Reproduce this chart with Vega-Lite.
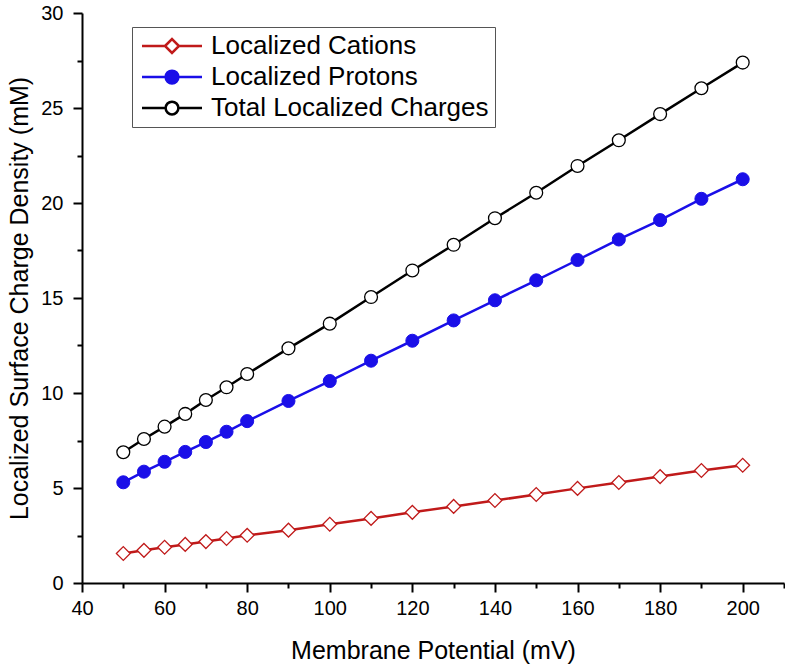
{
  "$schema": "https://vega.github.io/schema/vega-lite/v6.json",
  "width": 702,
  "height": 570,
  "autosize": "none",
  "padding": {"left": 82, "top": 13, "right": 1, "bottom": 87},
  "background": "white",
  "config": {
    "view": {"stroke": null},
    "font": "Liberation Sans",
    "axis": {"grid": false, "domainColor": "black", "domainWidth": 2, "tickColor": "black", "tickWidth": 2, "labelColor": "black", "labelFont": "Liberation Sans", "labelFontSize": 20, "titleFont": "Liberation Sans", "titleFontSize": 25, "titleFontWeight": "normal", "titleColor": "black"}
  },
  "data": {"values": [
    {"series": "Localized Cations", "x": 50, "y": 1.55},
    {"series": "Localized Cations", "x": 55, "y": 1.72},
    {"series": "Localized Cations", "x": 60, "y": 1.88},
    {"series": "Localized Cations", "x": 65, "y": 2.03},
    {"series": "Localized Cations", "x": 70, "y": 2.18},
    {"series": "Localized Cations", "x": 75, "y": 2.34},
    {"series": "Localized Cations", "x": 80, "y": 2.51},
    {"series": "Localized Cations", "x": 90, "y": 2.78},
    {"series": "Localized Cations", "x": 100, "y": 3.09},
    {"series": "Localized Cations", "x": 110, "y": 3.4},
    {"series": "Localized Cations", "x": 120, "y": 3.72},
    {"series": "Localized Cations", "x": 130, "y": 4.03},
    {"series": "Localized Cations", "x": 140, "y": 4.34},
    {"series": "Localized Cations", "x": 150, "y": 4.66},
    {"series": "Localized Cations", "x": 160, "y": 4.98},
    {"series": "Localized Cations", "x": 170, "y": 5.29},
    {"series": "Localized Cations", "x": 180, "y": 5.6},
    {"series": "Localized Cations", "x": 190, "y": 5.92},
    {"series": "Localized Cations", "x": 200, "y": 6.2},
    {"series": "Localized Protons", "x": 50, "y": 5.3},
    {"series": "Localized Protons", "x": 55, "y": 5.86},
    {"series": "Localized Protons", "x": 60, "y": 6.38},
    {"series": "Localized Protons", "x": 65, "y": 6.9},
    {"series": "Localized Protons", "x": 70, "y": 7.42},
    {"series": "Localized Protons", "x": 75, "y": 7.96},
    {"series": "Localized Protons", "x": 80, "y": 8.52},
    {"series": "Localized Protons", "x": 90, "y": 9.58},
    {"series": "Localized Protons", "x": 100, "y": 10.63},
    {"series": "Localized Protons", "x": 110, "y": 11.7},
    {"series": "Localized Protons", "x": 120, "y": 12.75},
    {"series": "Localized Protons", "x": 130, "y": 13.82},
    {"series": "Localized Protons", "x": 140, "y": 14.88},
    {"series": "Localized Protons", "x": 150, "y": 15.93},
    {"series": "Localized Protons", "x": 160, "y": 17.0},
    {"series": "Localized Protons", "x": 170, "y": 18.08},
    {"series": "Localized Protons", "x": 180, "y": 19.1},
    {"series": "Localized Protons", "x": 190, "y": 20.22},
    {"series": "Localized Protons", "x": 200, "y": 21.25},
    {"series": "Total Localized Charges", "x": 50, "y": 6.88},
    {"series": "Total Localized Charges", "x": 55, "y": 7.58},
    {"series": "Total Localized Charges", "x": 60, "y": 8.23},
    {"series": "Total Localized Charges", "x": 65, "y": 8.9},
    {"series": "Total Localized Charges", "x": 70, "y": 9.63},
    {"series": "Total Localized Charges", "x": 75, "y": 10.3},
    {"series": "Total Localized Charges", "x": 80, "y": 11.0},
    {"series": "Total Localized Charges", "x": 90, "y": 12.35},
    {"series": "Total Localized Charges", "x": 100, "y": 13.65},
    {"series": "Total Localized Charges", "x": 110, "y": 15.05},
    {"series": "Total Localized Charges", "x": 120, "y": 16.45},
    {"series": "Total Localized Charges", "x": 130, "y": 17.8},
    {"series": "Total Localized Charges", "x": 140, "y": 19.2},
    {"series": "Total Localized Charges", "x": 150, "y": 20.54},
    {"series": "Total Localized Charges", "x": 160, "y": 21.95},
    {"series": "Total Localized Charges", "x": 170, "y": 23.3},
    {"series": "Total Localized Charges", "x": 180, "y": 24.68},
    {"series": "Total Localized Charges", "x": 190, "y": 26.04},
    {"series": "Total Localized Charges", "x": 200, "y": 27.39}
  ]},
  "encoding": {
    "x": {"field": "x", "type": "quantitative",
      "scale": {"domain": [40, 210], "nice": false, "zero": false},
      "axis": {"title": "Membrane Potential (mV)", "values": [40,50,60,70,80,90,100,110,120,130,140,150,160,170,180,190,200,210],
        "labelExpr": "datum.value % 20 === 0 && datum.value <= 200 ? datum.label : ''",
        "tickSize": {"condition": {"test": "datum.value % 20 === 0", "value": 9}, "value": 5},
        "labelPadding": 6, "titlePadding": 20, "labelFlush": false}},
    "y": {"field": "y", "type": "quantitative",
      "scale": {"domain": [0, 30], "nice": false},
      "axis": {"title": "Localized Surface Charge Density (mM)", "values": [0,2.5,5,7.5,10,12.5,15,17.5,20,22.5,25,27.5,30],
        "labelExpr": "datum.value % 5 === 0 ? datum.label : ''",
        "tickSize": {"condition": {"test": "datum.value % 5 === 0", "value": 9}, "value": 5},
        "labelPadding": 10, "titlePadding": 8, "labelFlush": false}},
    "color": {"field": "series", "type": "nominal",
      "scale": {"domain": ["Localized Cations", "Localized Protons", "Total Localized Charges"], "range": ["#c01a1a", "#1a0fe8", "#000000"]},
      "legend": {"title": null, "orient": "none", "legendX": 50, "legendY": 14, "padding": 6,
        "strokeColor": "#555555", "fillColor": "white",
        "labelFont": "Liberation Sans", "labelFontSize": 26, "labelColor": "black", "labelOffset": 26,
        "symbolSize": 225, "symbolStrokeWidth": 2.5, "symbolOffset": 21, "rowPadding": 5, "labelLimit": 400,
        "encode": {"symbols": {"update": {
          "shape": {"signal": "datum.value === 'Localized Cations' ? 'M-4,0L-0.93,0M0.93,0L4,0M-0.93,0L0,-0.93L0.93,0L0,0.93Z' : 'M-4,0L-0.85,0M0.85,0L4,0M-0.85,0A0.85,0.85,0,1,1,0.85,0A0.85,0.85,0,1,1,-0.85,0Z'"},
          "fill": {"signal": "datum.value === 'Localized Protons' ? '#1a0fe8' : 'white'"},
          "strokeWidth": {"value": 2.5},
          "opacity": {"value": 1}
        }}}}}
  },
  "layer": [
    {
      "mark": {"type": "line", "strokeWidth": 2.5}
    },
    {
      "transform": [{"filter": {"field": "series", "equal": "Localized Cations"}}],
      "mark": {"type": "point", "shape": "diamond", "filled": false, "fill": "white", "strokeWidth": 1.3, "opacity": 1, "size": 190}
    },
    {
      "transform": [{"filter": {"field": "series", "equal": "Localized Protons"}}],
      "mark": {"type": "point", "shape": "circle", "filled": false, "fill": "#1a0fe8", "strokeWidth": 1, "opacity": 1, "size": 170}
    },
    {
      "transform": [{"filter": {"field": "series", "equal": "Total Localized Charges"}}],
      "mark": {"type": "point", "shape": "circle", "filled": false, "fill": "white", "strokeWidth": 1.3, "opacity": 1, "size": 165}
    }
  ]
}
